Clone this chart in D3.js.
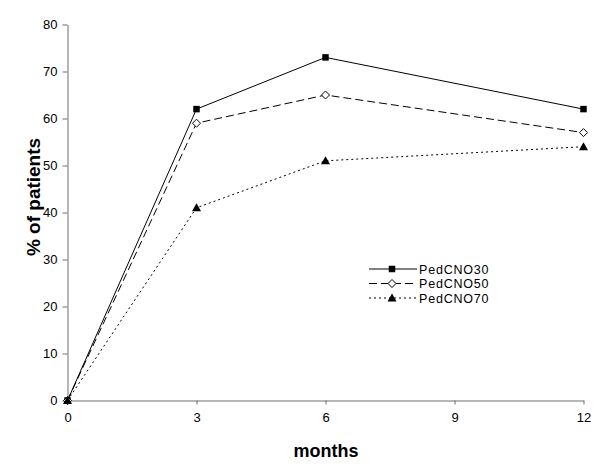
<!DOCTYPE html>
<html><head><meta charset="utf-8">
<script src="https://cdn.jsdelivr.net/npm/d3@7"></script>
<style>body{margin:0;background:#fff}svg{display:block}text{font-family:"Liberation Sans",Arial,sans-serif}</style>
</head><body><svg id="c" width="600" height="476"></svg>
<script>
const months = [0, 3, 6, 12];
const seriesNames = ["PedCNO30", "PedCNO50", "PedCNO70"];
const ped30 = [0, 62, 73, 62];
const ped50 = [0, 59, 65, 57];
const ped70 = [0, 41, 51, 54];
const xTicks = [0, 3, 6, 9, 12];
const yTicks = [0, 10, 20, 30, 40, 50, 60, 70, 80];

const svg = d3.select("#c");
const x = d3.scaleLinear().domain([0, 12]).range([67.5, 583.5]);
const y = d3.scaleLinear().domain([0, 80]).range([400.5, 24.5]);

const xa = svg.append("g").attr("transform", "translate(0,400.5)")
  .call(d3.axisBottom(x).tickValues(xTicks).tickSize(4).tickPadding(8).tickSizeOuter(0));
const ya = svg.append("g").attr("transform", "translate(67.5,0)")
  .call(d3.axisLeft(y).tickValues(yTicks).tickSize(5).tickPadding(5).tickSizeOuter(0));
[xa, ya].forEach(a => {
  a.selectAll("path,line").attr("stroke", "#6e6e6e");
  a.selectAll("text").attr("font-size", 13).attr("fill", "#000")
   .attr("font-family", '"Liberation Sans",Arial,sans-serif');
});

svg.append("text").attr("x", 326).attr("y", 457).attr("text-anchor", "middle")
  .attr("font-size", 18).attr("font-weight", "bold").text("months");
svg.append("text").attr("transform", "translate(40,197) rotate(-90)").attr("text-anchor", "middle")
  .attr("font-size", 19).attr("font-weight", "bold").text("% of patients");

const styles = [
  {vals: ped30, dash: null, marker: "square"},
  {vals: ped50, dash: "8,4", marker: "diamond"},
  {vals: ped70, dash: "2,3", marker: "triangle"}
];
const line = d3.line().x(d => x(d[0])).y(d => y(d[1]));

function drawMarker(g, type, cx, cy) {
  if (type === "square") {
    g.append("path").attr("d", d3.symbol(d3.symbolSquare, 42)()).attr("transform", `translate(${cx},${cy})`).attr("fill", "#000");
  } else if (type === "diamond") {
    g.append("path").attr("d", `M0,-4L4,0L0,4L-4,0Z`).attr("transform", `translate(${cx},${cy})`)
      .attr("fill", "#fff").attr("stroke", "#000").attr("stroke-width", 1);
  } else {
    g.append("path").attr("d", `M0,-4.5L4.5,3.5L-4.5,3.5Z`).attr("transform", `translate(${cx},${cy})`).attr("fill", "#000");
  }
}

styles.forEach((s, i) => {
  const pts = months.map((m, j) => [m, s.vals[j]]);
  svg.append("path").datum(pts).attr("d", line).attr("fill", "none")
    .attr("stroke", "#000").attr("stroke-width", 1).attr("stroke-dasharray", s.dash);
  const g = svg.append("g");
  pts.forEach(p => drawMarker(g, s.marker, x(p[0]), y(p[1])));
});

// legend
const lg = svg.append("g");
seriesNames.forEach((n, i) => {
  const ly = 269 + i * 14.5;
  lg.append("line").attr("x1", 369).attr("x2", 417).attr("y1", ly).attr("y2", ly)
    .attr("stroke", "#000").attr("stroke-dasharray", styles[i].dash);
  drawMarker(lg, styles[i].marker, 392, ly);
  lg.append("text").attr("x", 419).attr("y", ly + 4.5).attr("font-size", 12.5)
    .attr("letter-spacing", 0.8).text(n);
});
</script></body></html>
